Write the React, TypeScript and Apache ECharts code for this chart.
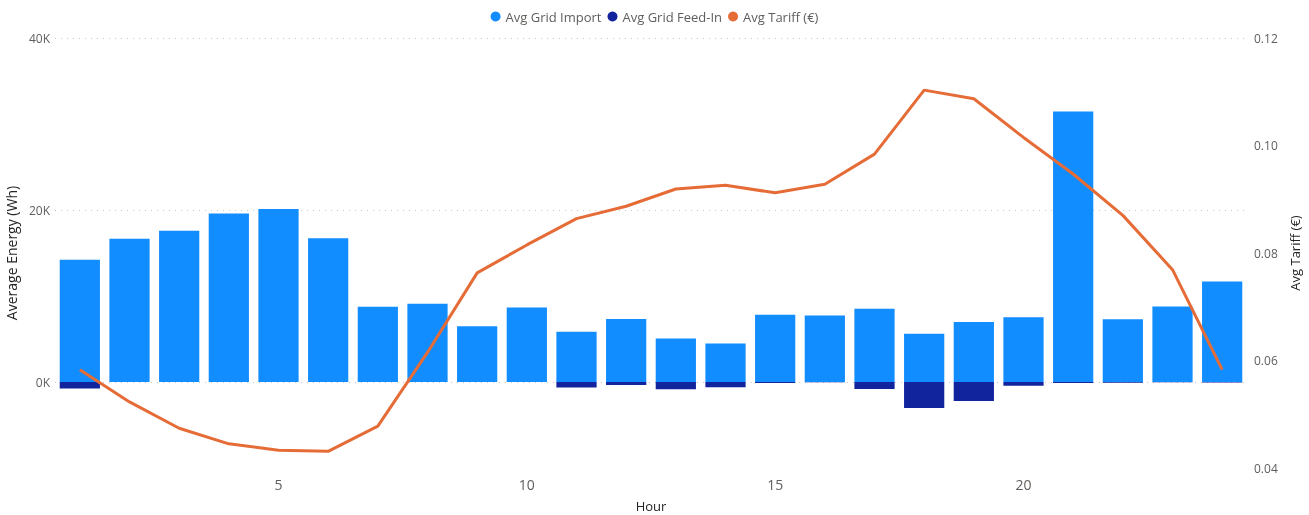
import React, { useEffect, useRef } from "react";
import * as echarts from "echarts";

const hours = ["1","2","3","4","5","6","7","8","9","10","11","12","13","14","15","16","17","18","19","20","21","22","23","24"];
const avgGridImport = [14220, 16670, 17600, 19600, 20120, 16720, 8740, 9090, 6490, 8660, 5830, 7340, 5060, 4480, 7820, 7730, 8510, 5620, 6990, 7520, 31450, 7290, 8770, 11700];
const avgGridFeedIn = [-750, 0, 0, 0, 0, 0, 0, 0, 0, 0, -650, -350, -850, -620, -130, -40, -820, -3030, -2220, -440, -120, -90, -30, -60];
const avgTariff = [0.0583, 0.0523, 0.0474, 0.0445, 0.0433, 0.0431, 0.0478, 0.0615, 0.0763, 0.0815, 0.0864, 0.0887, 0.0919, 0.0926, 0.0912, 0.0928, 0.0984, 0.1103, 0.1087, 0.1015, 0.0947, 0.0870, 0.0769, 0.0583];
const energyGridLines = [0, 20000, 40000];
const shownHourLabels = ["5", "10", "15", "20"];

const FONT = "'Open Sans', 'Noto Sans', sans-serif";
const LABEL = "#605E5C";
const TITLE = "#252423";

export default function App() {
  const ref = useRef<HTMLDivElement>(null);
  useEffect(() => {
    if (!ref.current) return;
    const chart = echarts.init(ref.current, undefined, { renderer: "svg" });
    chart.setOption({
      animation: false,
      textStyle: { fontFamily: FONT },
      legend: {
        top: 5,
        left: "center",
        icon: "circle",
        itemWidth: 10,
        itemHeight: 10,
        itemGap: 6,
        textStyle: { fontSize: 13, color: LABEL, fontFamily: FONT },
        data: ["Avg Grid Import", "Avg Grid Feed-In", "Avg Tariff (€)"],
      },
      grid: { left: 55, right: 62, top: 38, bottom: 47, containLabel: false, outerBoundsMode: "none" },
      xAxis: {
        type: "category",
        data: hours,
        name: "Hour",
        nameLocation: "middle",
        nameGap: 31,
        nameTextStyle: { fontSize: 13, color: TITLE, fontFamily: FONT },
        axisLine: { show: false },
        axisTick: { show: false },
        axisLabel: {
          fontSize: 14,
          color: LABEL,
          margin: 9,
          interval: (_i: number, v: string) => shownHourLabels.includes(v),
        },
      },
      yAxis: [
        {
          type: "value",
          min: -10000,
          max: 40000,
          interval: 10000,
          name: "Average Energy (Wh)",
          nameLocation: "middle",
          nameGap: 36,
          nameTextStyle: { fontSize: 14, color: TITLE, fontFamily: FONT },
          axisLine: { show: false },
          axisTick: { show: false },
          splitLine: { show: false },
          axisLabel: {
            fontSize: 12,
            color: LABEL,
            margin: 5,
            formatter: (v: number) => (v % 20000 === 0 && v >= 0 ? v / 1000 + "K" : ""),
          },
        },
        {
          type: "value",
          min: 0.04,
          max: 0.12,
          interval: 0.02,
          name: "Avg Tariff (€)",
          nameLocation: "middle",
          nameGap: 38,
          nameRotate: 90,
          nameTextStyle: { fontSize: 13, color: TITLE, fontFamily: FONT },
          axisLine: { show: false },
          axisTick: { show: false },
          splitLine: { show: false },
          axisLabel: {
            fontSize: 12,
            color: LABEL,
            margin: 7,
            formatter: (v: number) => v.toFixed(2),
          },
        },
      ],
      series: [
        {
          name: "Avg Grid Import",
          type: "bar",
          stack: "energy",
          data: avgGridImport,
          barCategoryGap: "19%",
          itemStyle: { color: "#118DFF" },
          markLine: {
            silent: true,
            symbol: ["none", "none"],
            label: { show: false },
            lineStyle: { color: "#C8C6C4", type: [1, 5], width: 1 },
            data: energyGridLines.map((v) => ({ yAxis: v })),
            z: 0,
          },
        },
        {
          name: "Avg Grid Feed-In",
          type: "bar",
          stack: "energy",
          data: avgGridFeedIn,
          itemStyle: { color: "#12239E" },
        },
        {
          name: "Avg Tariff (€)",
          type: "line",
          yAxisIndex: 1,
          data: avgTariff,
          showSymbol: false,
          symbol: "none",
          lineStyle: { color: "#E66C37", width: 3 },
          itemStyle: { color: "#E66C37" },
          z: 5,
        },
      ],
    });
    return () => chart.dispose();
  }, []);
  return <div ref={ref} style={{ position: "fixed", left: 0, top: 0, width: 1309, height: 515 }} />;
}
